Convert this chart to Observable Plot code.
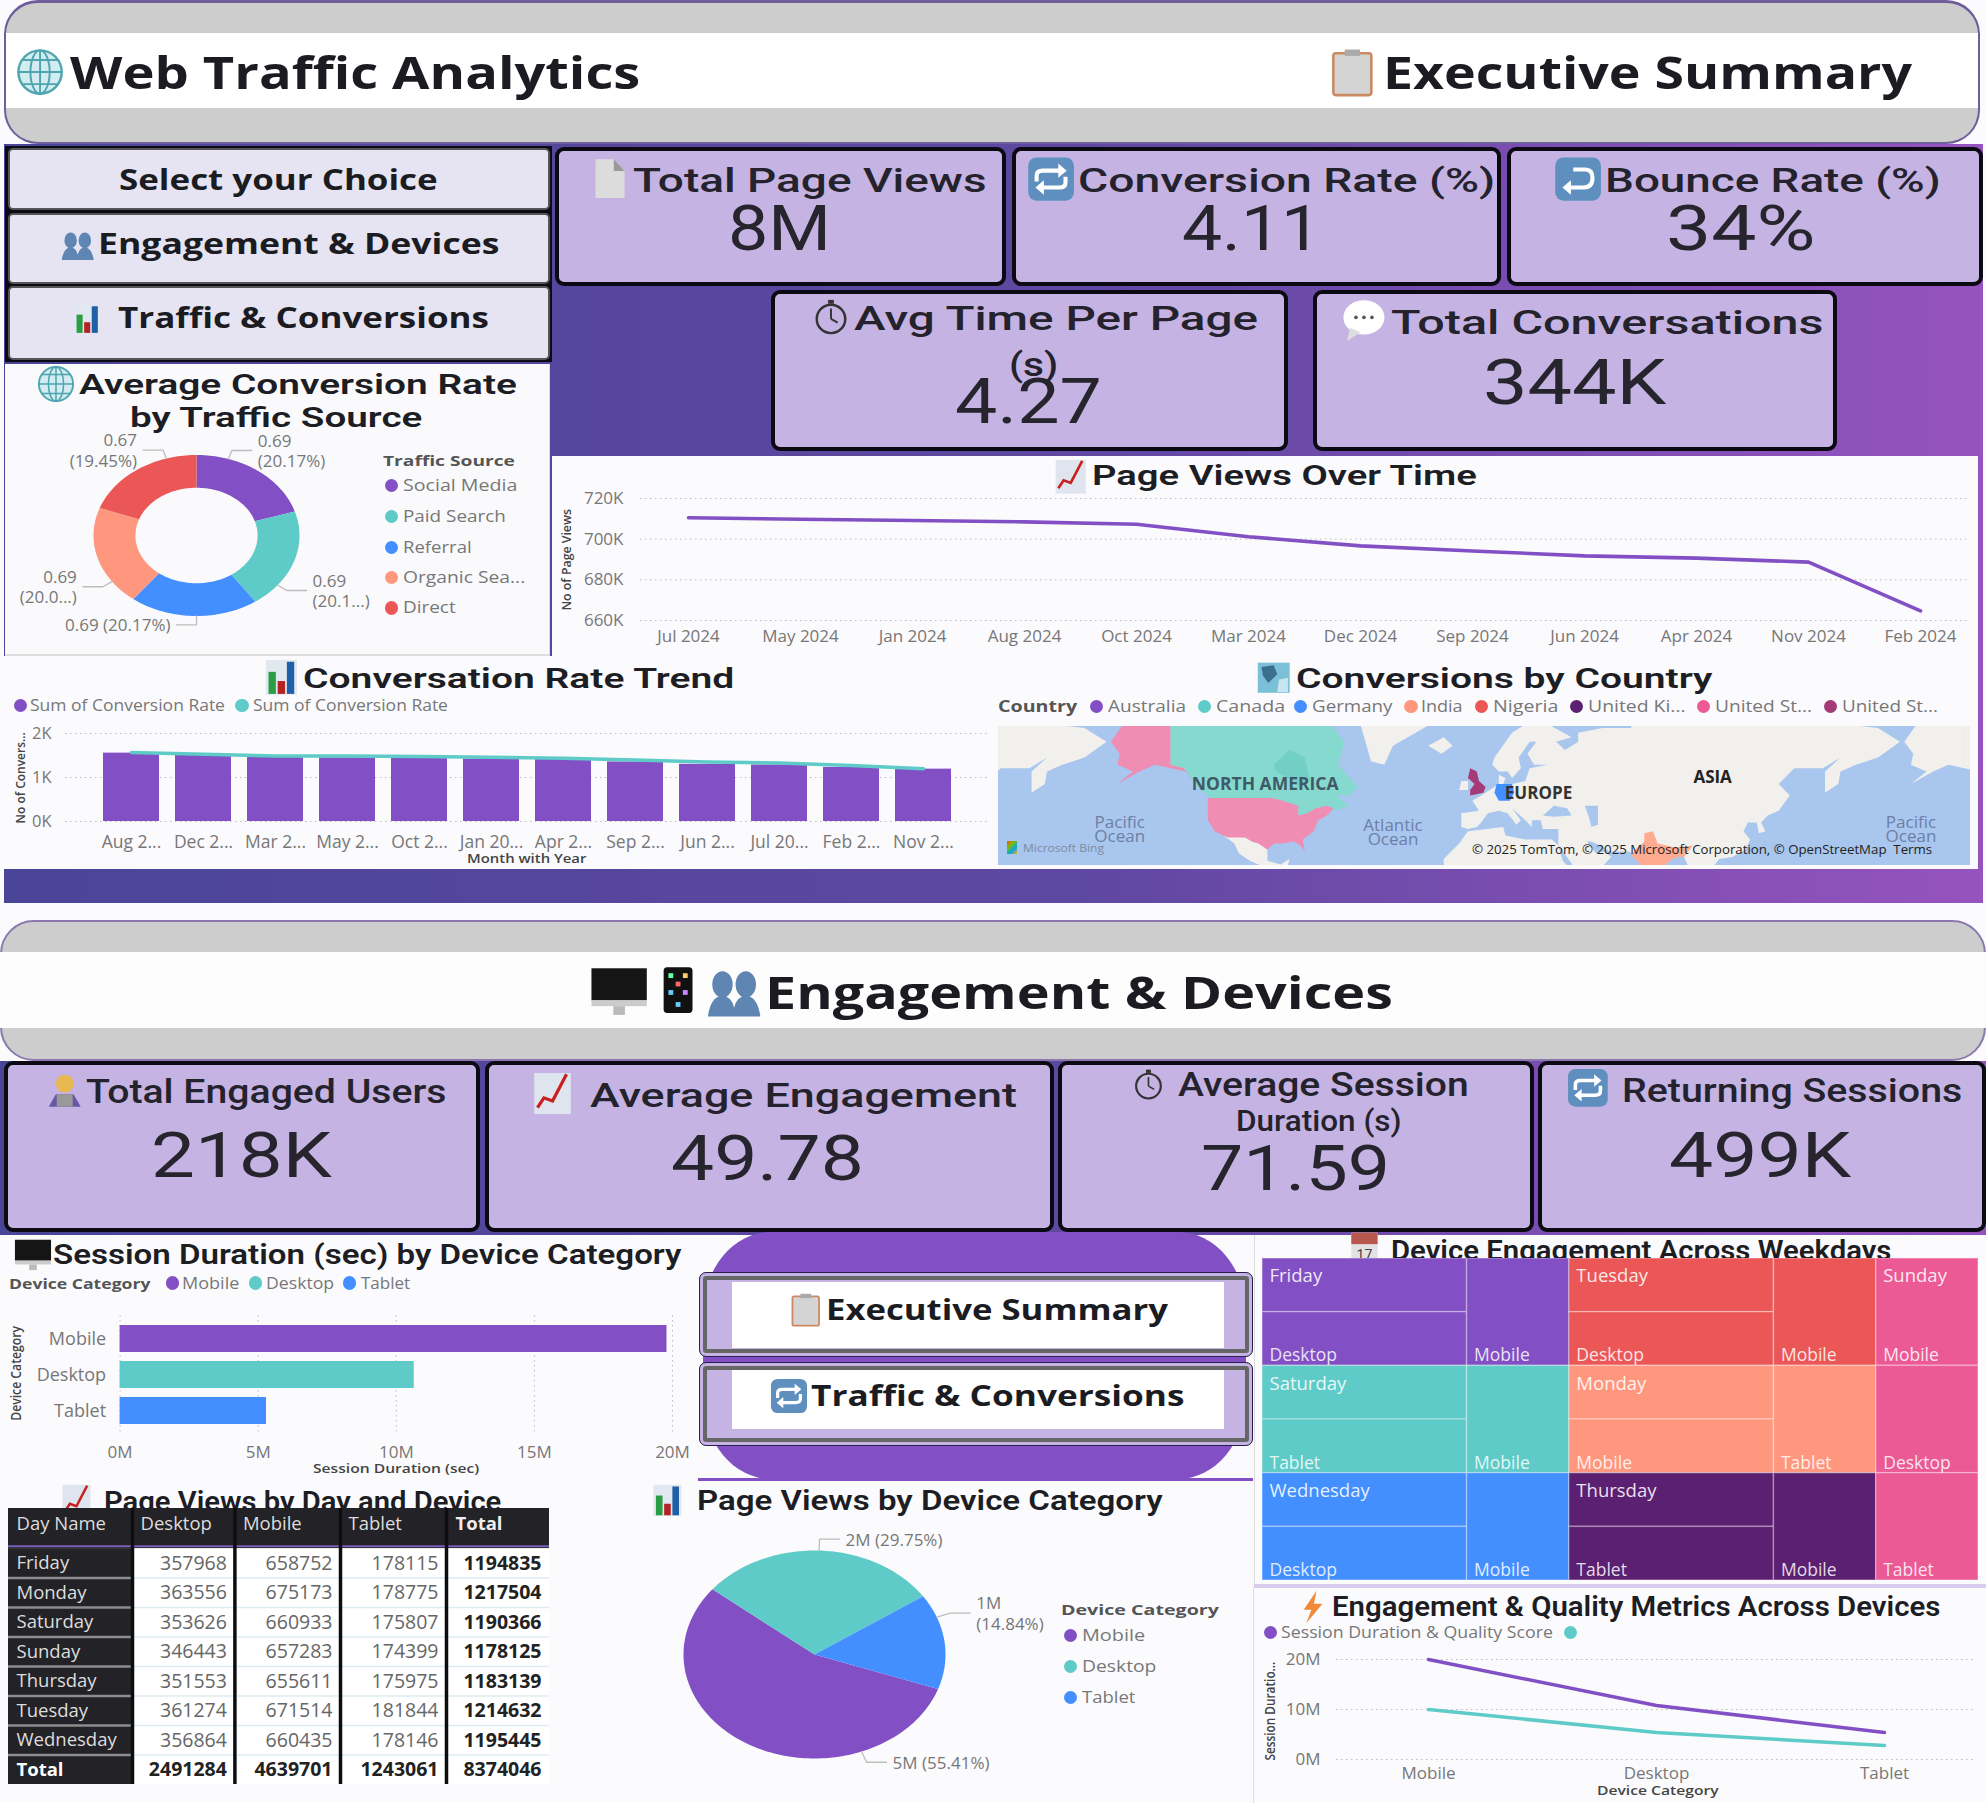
<!DOCTYPE html>
<html><head><meta charset="utf-8">
<script src="https://cdn.jsdelivr.net/npm/d3@7"></script>
<script src="https://cdn.jsdelivr.net/npm/@observablehq/plot@0.6"></script>
<style>
html,body{margin:0;padding:0;background:#fff}
#page{position:relative;width:1986px;height:1803px;overflow:hidden;background:#fbfbfd}
#page>*{position:absolute}
#page svg{display:block}
</style></head><body><div id="page"></div>
<script>
// ---------- Data ----------
const themePurple="#8250C4",themeTeal="#5ECBC8",themeBlue="#438FFF",themeOrange="#FF977E",themeRed="#EB5757",themeDeep="#5B2071",themePink="#EC5A96",themePlum="#A43B76";
const trafficSources=["Social Media","Paid Search","Referral","Organic Sea...","Direct"];
const trafficShares=[20.17,20.17,20.17,20.04,19.45];
const trafficLabels=["0.69\n(20.17%)","0.69\n(20.1...)","0.69 (20.17%)","0.69\n(20.0...)","0.67\n(19.45%)"];
const trafficColors=[themePurple,themeTeal,themeBlue,themeOrange,themeRed];
const viewMonths=["Jul 2024","May 2024","Jan 2024","Aug 2024","Oct 2024","Mar 2024","Dec 2024","Sep 2024","Jun 2024","Apr 2024","Nov 2024","Feb 2024"];
const viewValues=[710500,709800,709200,708500,707300,701200,696700,694200,691800,690700,688700,664700];
const trendMonths=["Aug 2...","Dec 2...","Mar 2...","May 2...","Oct 2...","Jan 20...","Apr 2...","Sep 2...","Jun 2...","Jul 20...","Feb 2...","Nov 2..."];
const trendBars=[1554,1510,1460,1446,1440,1420,1410,1354,1300,1285,1230,1190];
const trendLine=[1570,1530,1490,1490,1480,1460,1440,1400,1350,1330,1270,1200];
const deviceNames=["Mobile","Desktop","Tablet"];
const deviceColors=[themePurple,themeTeal,themeBlue];
const sessionDuration=[19800000,10650000,5300000];
const sessionLine=[20000000,10800000,5400000];
const qualityScore=[10000000,5400000,2800000];
const deviceViewShares=[55.41,29.75,14.84];
const deviceViewLabels=["5M (55.41%)","2M (29.75%)","1M\n(14.84%)"];
const tableColumns=["Day Name","Desktop","Mobile","Tablet","Total"];
const tableDays=["Friday","Monday","Saturday","Sunday","Thursday","Tuesday","Wednesday","Total"];
const tableDesktop=[357968,363556,353626,346443,351553,361274,356864,2491284];
const tableMobile=[658752,675173,660933,657283,655611,671514,660435,4639701];
const tableTablet=[178115,178775,175807,174399,175975,181844,178146,1243061];
const tableTotal=[1194835,1217504,1190366,1178125,1183139,1214632,1195445,8374046];
const treemapColumns=[["Friday","Saturday","Wednesday"],["Tuesday","Monday","Thursday"],["Sunday"]];
const treemapDevices={Friday:["","Desktop","Mobile"],Saturday:["","Tablet","Mobile"],Wednesday:["","Desktop","Mobile"],Tuesday:["","Desktop","Mobile"],Monday:["","Mobile","Tablet"],Thursday:["","Tablet","Mobile"],Sunday:["Mobile","Desktop","Tablet"]};
const treemapColors={Friday:themePurple,Saturday:themeTeal,Wednesday:themeBlue,Tuesday:themeRed,Monday:themeOrange,Thursday:themeDeep,Sunday:themePink};
const countries=["Australia","Canada","Germany","India","Nigeria","United Ki...","United St...","United St..."];
const countryColors=[themePurple,themeTeal,themeBlue,themeOrange,themeRed,themeDeep,themePink,themePlum];
// map outlines, lon/lat
const eurasiaOutline=[[-9,37],[-9,43],[-1,44],[-4,48],[2,51],[8,54],[8,57],[11,56],[10,54],[14,54],[20,55],[22,59],[30,60],[24,60],[21,63],[25,66],[22,66],[17,62],[18,59],[14,56],[12,58],[8,58],[5,60],[6,62],[14,68],[25,71],[41,67],[34,66],[38,64],[44,66],[44,68],[55,69],[68,69],[70,73],[80,73],[100,77],[113,74],[130,72],[140,73],[160,70],[180,69],[190,66],[180,62],[170,60],[163,58],[162,54],[156,51],[156,58],[163,62],[155,59],[142,59],[135,54],[140,50],[135,44],[130,42],[127,39],[129,35],[126,34],[125,39],[121,39],[119,35],[122,31],[120,26],[114,22],[108,21],[106,18],[109,13],[105,9],[100,13],[98,10],[98,16],[94,17],[92,22],[88,22],[80,15],[80,10],[77,8],[73,17],[72,21],[67,25],[58,25],[56,27],[50,30],[48,30],[52,24],[56,25],[59,22],[55,17],[44,13],[42,17],[35,28],[35,36],[28,36],[27,40],[23,40],[23,37],[20,40],[14,45],[18,40],[16,38],[12,43],[8,44],[3,43],[0,39],[-2,37],[-6,36]];
const africaOutline=[[-6,35],[10,37],[11,33],[20,31],[32,31],[35,28],[37,20],[43,12],[51,11],[45,2],[10,2],[-17,10],[-17,21],[-10,29]];
const greenlandOutline=[[-50,61],[-44,60],[-40,65],[-22,70],[-20,76],[-60,78],[-55,70],[-52,65]];
const icelandOutline=[[-24,65],[-18,63],[-13,65],[-17,67]];
const irelandOutline=[[-10,52],[-6,52],[-6,55],[-9,55]];
const northAmericaLand=[[-117,33],[-107,32],[-104,30],[-101,29],[-97,26],[-97,20],[-91,18],[-87,21],[-88,16],[-83,15],[-83,10],[-95,15],[-105,20],[-110,24],[-112,29]];
const blackSea=[[28,42],[33,46],[39,45],[41,42],[33,41.5]];
const caspianSea=[[47,46],[53,46],[53,38],[50,37],[49,41]];
const hudsonBay=[[-94,60],[-87,64],[-80,62],[-78,56],[-82,52],[-85,55],[-93,58]];
const alaskaOutline=[[-168,66],[-162,70],[-156,71],[-141,70],[-141,60],[-135,59],[-130,55],[-134,58],[-148,60],[-155,58],[-165,54],[-158,58],[-165,60],[-164,63]];
const canadaOutline=[[-141,70],[-120,70],[-95,73],[-75,73],[-62,66],[-65,60],[-56,53],[-60,50],[-66,50],[-60,46],[-66,44],[-70,46],[-75,45],[-79,43],[-83,42],[-83,46],[-90,48],[-95,49],[-123,49],[-130,54],[-135,59],[-141,60]];
const usaOutline=[[-124,49],[-95,49],[-90,48],[-83,46],[-83,42],[-79,43],[-75,45],[-70,46],[-67,45],[-70,42],[-74,40],[-76,35],[-81,31],[-80,25],[-82,28],[-85,30],[-90,29],[-94,29],[-97,26],[-101,29],[-104,30],[-107,32],[-115,32],[-117,33],[-121,35],[-124,40]];
const ukOutline=[[-5,50],[1,51],[2,53],[-1,55],[-2,58],[-5,59],[-6,56],[-3,54],[-5,52]];
const germanyOutline=[[6,51],[7,54],[14,54],[15,51],[13,48],[8,48]];
const indiaOutline=[[68,23],[70,21],[73,17],[77,8],[80,12],[80,15],[87,21],[89,22],[92,22],[96,28],[88,27],[80,29],[78,35],[74,34],[74,30],[70,26]];

// ---------- Layout helpers ----------
const page=document.getElementById("page");
const k=1986/1568;
const F1='"Open Sans",sans-serif',F2='Roboto,sans-serif';
function box(x1,y1,x2,y2,css=""){const d=document.createElement("div");
  d.style.cssText=`left:${x1*k}px;top:${y1*k}px;width:${(x2-x1)*k}px;height:${(y2-y1)*k}px;box-sizing:border-box;${css}`;page.append(d);return d;}
function t(str,x1,x2,cy,size,o={}){const s=document.createElement("span");s.textContent=str;
  s.style.cssText=`white-space:pre;left:${x1*k}px;top:0;line-height:1.2;font-family:${o.f||F1};font-weight:${o.w||400};font-size:${size}px;color:${o.c||"#1b1b22"};transform-origin:0 50%;`;
  page.append(s);const w=s.offsetWidth,h=s.offsetHeight;s.style.top=(cy*k-h/2)+"px";s.style.transform=`scaleX(${(x2-x1)*k/w})`;return s;}
function rt(str,cx,y1,y2,size,o={}){const s=document.createElement("span");s.textContent=str;
  s.style.cssText=`white-space:pre;left:0;top:0;line-height:1.2;font-family:${F1};font-weight:${o.w||600};font-size:${size}px;color:${o.c||"#444"};`;
  page.append(s);const w=s.offsetWidth,h=s.offsetHeight;s.style.left=(cx*k-w/2)+"px";s.style.top=((y1+y2)/2*k-h/2)+"px";
  s.style.transform=`rotate(-90deg) scaleX(${(y2-y1)*k/w})`;return s;}
function dot(x,y,c,r=5.2){const d=document.createElement("div");
  d.style.cssText=`left:${(x-r)*k}px;top:${(y-r)*k}px;width:${2*r*k}px;height:${2*r*k}px;border-radius:50%;background:${c}`;page.append(d);}
function place(plot,x,y){plot.style.left=x+"px";plot.style.top=y+"px";plot.style.position="absolute";page.append(plot);}
const baseStyle={fontFamily:'"Open Sans",sans-serif',background:"transparent",color:"#777"};
const grid={stroke:"#8a8a8a",strokeOpacity:.55,strokeDasharray:"1.5 3.5"};
const ICONS={
 globe:`<circle cx="20" cy="20" r="18" fill="#d2ecef" stroke="#4ea5b0" stroke-width="2"/><g fill="none" stroke="#4ea5b0" stroke-width="1.6"><ellipse cx="20" cy="20" rx="8" ry="18"/><path d="M20 2V38M2 20H38M5 10H35M5 30H35"/></g>`,
 clip:`<rect x="5" y="5" width="30" height="33" rx="2" fill="#d4d4d4" stroke="#c98a62" stroke-width="2"/><rect x="14" y="2" width="12" height="5" fill="#aaa"/>`,
 page:`<path d="M7 2H24L34 13V38H7Z" fill="#dcdcdc"/><path d="M24 2V13H34Z" fill="#999"/>`,
 swap:`<rect x="1" y="2" width="38" height="36" rx="7" fill="#5f8fbe"/><g fill="none" stroke="#fff" stroke-width="3.4"><path d="M8 22V17Q8 13 13 13H28M32 18V23Q32 27 27 27H12"/></g><path d="M26 7L33 13L26 19ZM14 21L7 27L14 33Z" fill="#fff"/>`,
 bounce:`<rect x="1" y="2" width="38" height="36" rx="7" fill="#5f8fbe"/><path d="M16 12H26Q32 12 32 19Q32 27 25 27H12" fill="none" stroke="#fff" stroke-width="3.4"/><path d="M14 21L7 27L14 33Z" fill="#fff"/>`,
 clock:`<circle cx="20" cy="22" r="15" fill="none" stroke="#333" stroke-width="2.6"/><path d="M20 22L20 11M20 22L27 26" stroke="#333" stroke-width="2"/><rect x="17" y="2" width="6" height="4" fill="#333"/>`,
 bubble:`<ellipse cx="21" cy="17" rx="18" ry="15" fill="#fff"/><path d="M9 26L6 38L18 30Z" fill="#ddd"/><g fill="#555"><circle cx="14" cy="17" r="1.6"/><circle cx="21" cy="17" r="1.6"/><circle cx="28" cy="17" r="1.6"/></g>`,
 chart:`<rect x="3" y="1" width="34" height="38" fill="#dfe5ee"/><path d="M6 33L12 24L20 27L33 2" fill="none" stroke="#c8201f" stroke-width="3"/>`,
 bars:`<rect x="3" y="1" width="34" height="38" fill="#e2e8ef"/><rect x="6" y="14" width="8" height="24" fill="#2a9d45"/><rect x="16" y="24" width="8" height="14" fill="#b52222"/><rect x="26" y="3" width="8" height="35" fill="#1f5fa8"/>`,
 people:`<g fill="#5f86b3"><ellipse cx="12" cy="14" rx="7" ry="9"/><ellipse cx="28" cy="14" rx="7" ry="9"/><path d="M2 36Q4 22 12 22Q18 22 20 30Q22 22 28 22Q36 22 38 36Z"/></g>`,
 monitor:`<rect x="1" y="5" width="38" height="22" fill="#151515"/><rect x="1" y="27" width="38" height="4" fill="#ccc"/><rect x="16" y="31" width="8" height="6" fill="#bbb"/>`,
 phone:`<rect x="8" y="1" width="24" height="38" rx="3" fill="#111"/><g fill="#6fa"><rect x="12" y="6" width="4" height="4"/><rect x="24" y="6" width="4" height="4" fill="#fc6"/><rect x="18" y="13" width="4" height="4" fill="#f66"/><rect x="12" y="20" width="4" height="4" fill="#6cf"/><rect x="24" y="20" width="4" height="4" fill="#c8f"/><rect x="18" y="30" width="4" height="4" fill="#6cf"/></g>`,
 cal:`<rect x="4" y="2" width="32" height="36" fill="#e2e2e2"/><rect x="4" y="2" width="32" height="14" fill="#b8584f"/><text x="20" y="35" text-anchor="middle" font-size="17" font-family="Roboto" fill="#444">17</text>`,
 bolt:`<path d="M24 1L9 23H18L12 39L31 16H21Z" fill="#f08a3a"/>`,
 map:`<rect x="2" y="3" width="36" height="34" fill="#7cc0d8"/><path d="M6 8L20 6L24 16L14 26L8 18Z" fill="#3a6f8f"/><path d="M26 22L36 20V36H24Z" fill="#c8e6ef"/>`,
 user:`<circle cx="20" cy="12" r="10" fill="#e8b850"/><path d="M2 38L10 24H30L38 38Z" fill="#6a56a8"/><rect x="11" y="24" width="18" height="14" fill="#999"/>`
};
function icon(name,cx,cy,size){const d=document.createElement("div");const s=size*k;
  d.style.cssText=`left:${cx*k-s/2}px;top:${cy*k-s/2}px;width:${s}px;height:${s}px`;
  d.innerHTML=`<svg viewBox="0 0 40 40" width="${s}" height="${s}">${ICONS[name]}</svg>`;page.append(d);}
function ringRows(names,shares,startDeg,inner){const sum=d3.sum(shares);let a=startDeg;const rows=[];
  shares.forEach((v,i)=>{const span=v/sum*360,n=Math.max(4,Math.ceil(span/1.5));
    const pt=(deg,r)=>({key:names[i],x:r*Math.sin(deg*Math.PI/180),y:r*Math.cos(deg*Math.PI/180)});
    for(let j=0;j<=n;j++)rows.push(pt(a+span*j/n,1));
    for(let j=n;j>=0;j--)rows.push(pt(a+span*j/n,inner));
    a+=span;});return rows;}
function leaders(angles,labels,sides,rx){const lines=[],texts=[];
  angles.forEach((deg,i)=>{const s=Math.sin(deg*Math.PI/180),c=Math.cos(deg*Math.PI/180);
    const ex=1.11*s,ey=1.11*c,end=ex+sides[i]*20/rx;
    lines.push({key:i,x:s,y:c},{key:i,x:ex,y:ey},{key:i,x:end,y:ey});
    texts.push({x:end,y:ey,label:labels[i],side:sides[i]});});return{lines,texts};}
function ringPlot(names,colors,shares,start,inner,angles,labels,sides,cx,cy,rx,ry,W,H){
  const L=leaders(angles,labels,sides,rx);
  return Plot.plot({width:W,height:H,margin:0,style:baseStyle,
    x:{axis:null,domain:[-cx/rx,(W-cx)/rx],range:[0,W]},y:{axis:null,domain:[-(H-cy)/ry,cy/ry],range:[H,0]},
    color:{domain:names,range:colors},
    marks:[Plot.line(ringRows(names,shares,start,inner),{x:"x",y:"y",z:"key",fill:"key",stroke:"none"}),
      Plot.line(L.lines,{x:"x",y:"y",z:"key",stroke:"#bdbdbd",strokeWidth:1.3}),
      Plot.text(L.texts.filter(d=>d.side>0),{x:"x",y:"y",text:"label",textAnchor:"start",dx:6,fontSize:17,fill:"#777",lineHeight:1.2}),
      Plot.text(L.texts.filter(d=>d.side<0),{x:"x",y:"y",text:"label",textAnchor:"end",dx:-6,fontSize:17,fill:"#777",lineHeight:1.2})]});}
function tickK(v){return Math.round(v/1000)+"K";}
function tickM(v){return Math.round(v/1e6)+"M";}

// ---------- Section 1: frame ----------
box(3,114,1566,713,"background:linear-gradient(90deg,#4a4597 0%,#5f48a1 55%,#9653c0 100%)");
box(3,0,1563,114,"background:#cdcdcd;border:2px solid #6f5e9c;border-top-width:3px;border-radius:34px");
box(4.5,26,1561.5,85,"background:#fff");
icon("globe",32,57,38);t("Web Traffic Analytics",55,505,57,45,{w:700});
icon("clip",1068,57,40);t("Executive Summary",1092,1510,57,45,{w:700});
box(4,115,436,286,"background:#0c0a14");
[[6,117,434,166],[6,168,434,224],[6,226,434,284]].forEach(b=>box(...b,"background:#e6e3f2;border:2.5px solid #555;border-radius:5px"));
t("Select your Choice",94,346,142,28,{w:700});
icon("people",61,194,28);t("Engagement & Devices",77,394,193,28,{w:700});
icon("bars",69,252,24);t("Traffic & Conversions",93,386,251,28,{w:700});
const card="background:#c5b3e3;border:4px solid #0b0a12;border-radius:9px";
[[438,116,794,226],[799,116,1185,226],[1190,116,1566,226],[609,229,1017,356],[1037,229,1450,356]].forEach(b=>box(...b,card));
const kt={f:F2,w:500,c:"#24222c"},kv={f:F2,w:400,c:"#26242c"};
icon("page",481,141,34);t("Total Page Views",500,779,143,33,kt);t("8M",575,656,181,63,kv);
icon("swap",830,141,38);t("Conversion Rate (%)",851,1181,143,33,kt);t("4.11",933,1043,181,63,kv);
icon("bounce",1246,141,38);t("Bounce Rate (%)",1267,1532,143,33,kt);t("34%",1315,1433,181,63,kv);
icon("clock",656,250,30);t("Avg Time Per Page",674,993,252,33,kt);t("(s)",797,836,288,33,kt);t("4.27",754,870,317,63,kv);
icon("bubble",1076,253,36);t("Total Conversations",1098,1439,255,33,kt);t("344K",1171,1316,302,63,kv);

// donut panel
box(4,287,434,518,"background:#fafafc;border-right:1px solid #ddd;border-bottom:2px solid #ddd");
icon("globe",44,303,30);
const pt={f:F2,w:600,c:"#1d1d24"};
t("Average Conversion Rate",62,408,304,28,pt);t("by Traffic Source",103,334,330,28,pt);
place(ringPlot(trafficSources,trafficColors,trafficShares,0,.593,[18,128,180,235,343],trafficLabels,[1,1,-1,-1,-1],196,120,103,80.5,500,240),0,415);
t("Traffic Source",302,406,363,15,{w:700,c:"#555"});
const lw=[408,399,372,415,360];
trafficSources.forEach((n,i)=>{const y=[383,408,432,456,480][i];dot(309,y,trafficColors[i]);t(n,318,lw[i],y,16,{c:"#777"});});

// page views panel
box(436,360,1562,518,"background:#fbfafd");
icon("chart",845,376,28);t("Page Views Over Time",862,1166,376,28,pt);
place(Plot.plot({width:1420,height:173,marginLeft:80,marginRight:12,marginTop:18,marginBottom:33,style:baseStyle,
  x:{type:"point",domain:viewMonths,padding:.385,label:null},y:{domain:[660000,720000],label:null},
  marks:[Plot.gridY([660000,680000,700000,720000],grid),
    Plot.axisY([660000,680000,700000,720000],{tickSize:0,tickPadding:17,tickFormat:tickK,fontSize:17,fill:"#777",label:null}),
    Plot.axisX({tickSize:0,tickPadding:9,fontSize:17,fill:"#777",label:null}),
    Plot.line(viewMonths.map((m,i)=>({m,v:viewValues[i]})),{x:"m",y:"v",stroke:themePurple,strokeWidth:3.6})]}),560,480);
rt("No of Page Views",447,402,482,13);

// bottom panels section 1
box(3,518,781,686,"background:#fbfafd");box(781,518,1562,686,"background:#fbfafd");
icon("bars",222,535,29);t("Conversation Rate Trend",239,579,536,28,pt);
dot(16,557,themePurple);t("Sum of Conversion Rate",24,178,557,15.5,{c:"#777"});
dot(191,557,themeTeal);t("Sum of Conversion Rate",200,354,557,15.5,{c:"#777"});
place(Plot.plot({width:1000,height:136,marginLeft:65,marginRight:10,marginTop:13,marginBottom:35,style:baseStyle,
  x:{type:"band",domain:trendMonths,paddingInner:.22,paddingOuter:.495,label:null},y:{domain:[0,2000],label:null},
  marks:[Plot.gridY([0,1000,2000],grid),
    Plot.axisY([0,1000,2000],{tickSize:0,tickPadding:14,tickFormat:tickK,fontSize:16.5,fill:"#777",label:null}),
    Plot.axisX({tickSize:0,tickPadding:14,fontSize:17.5,fill:"#777",label:null}),
    Plot.barY(trendMonths.map((m,i)=>({m,v:trendBars[i]})),{x:"m",y:"v",fill:themePurple}),
    Plot.line(trendMonths.map((m,i)=>({m,v:trendLine[i]})),{x:"m",y:"v",stroke:themeTeal,strokeWidth:3.5})]}),0,720);
rt("No of Convers...",16,578,650,13);
t("Month with Year",369,463,678,13,{w:600,c:"#444"});

icon("map",1006,535,28);t("Conversions by Country",1023,1352,536,28,pt);
t("Country",788,850,558,15.5,{w:700,c:"#555"});
const cd=[866,951,1027,1114,1170,1245,1345,1445],cx1=[875,960,1036,1122,1179,1254,1354,1454],cx2=[937,1015,1100,1155,1231,1331,1431,1530];
countries.forEach((n,i)=>{dot(cd[i],558,countryColors[i]);t(n,cx1[i],cx2[i],558,15.5,{c:"#777"});});
const merc=lat=>Math.log(Math.tan(Math.PI/4+lat*Math.PI/360));
const land="#f2f0ec",ocean="#a9c6ee",mapTeal="#86d9cf",mapPink="#f08db2",mapPeach="#ffab92";
const shape=(pts,fill,shift=0)=>Plot.line(pts.map(p=>({lon:p[0]+shift,lat:p[1]})),{x:"lon",y:d=>merc(d.lat),fill,stroke:"none"});
const ocText=(txt,lon,lat,size,fill,weight)=>Plot.text([{lon,lat}],{x:"lon",y:d=>merc(d.lat),text:()=>txt,fontSize:size,fill,fontWeight:weight,lineHeight:.85});
place(Plot.plot({width:972,height:139,margin:0,style:{...baseStyle,background:ocean},
  x:{axis:null,domain:[-219,222],range:[0,972]},y:{axis:null,domain:[.31,1.70],range:[139,0]},
  marks:[shape(eurasiaOutline,land),shape(eurasiaOutline,land,-360),shape(africaOutline,land),shape(greenlandOutline,land),shape(icelandOutline,land),shape(irelandOutline,land),
    shape(northAmericaLand,land),shape(blackSea,ocean),shape(caspianSea,ocean),
    shape(alaskaOutline,land,360),shape(canadaOutline,land,360),
    shape(canadaOutline,mapTeal),shape(hudsonBay,"#72cfc6"),shape(alaskaOutline,mapPink),shape(usaOutline,mapPink),
    shape(ukOutline,themePlum),shape(germanyOutline,themeBlue),shape(indiaOutline,mapPeach),
    ocText("NORTH AMERICA",-98,53.5,17.5,"#3f5a66",700),ocText("EUROPE",26,50.5,17,"#333",700),ocText("ASIA",105,56,17,"#222",700),
    ocText("Pacific\nOcean",-164,35.5,17,"#6d7fa6",400),ocText("Atlantic\nOcean",-40,34,17,"#6d7fa6",400),ocText("Pacific\nOcean",195,35.5,17,"#6d7fa6",400)]}),998,726);
box(795,664,803,674,"background:linear-gradient(135deg,#f25022,#7fba00,#00a4ef,#ffb900)");
t("Microsoft Bing",808,872,669,11,{c:"#7d8aa0"});
t("© 2025 TomTom, © 2025 Microsoft Corporation, © OpenStreetMap  Terms",1162,1525,671,12.5,{c:"#222"});

// ---------- Section 2 ----------
box(0,838,1568,975,"background:linear-gradient(90deg,#4a4597 0%,#5f48a1 55%,#9653c0 100%)");
box(0,726,1568,838,"background:#cdcdcd;border:2px solid #8a78ae;border-radius:34px");
box(0,752,1568,812,"background:#fdfdfd");
icon("monitor",489,782,46);icon("phone",535,782,38);icon("people",580,784,46);
t("Engagement & Devices",604,1100,783,45,{w:700});
[[3,838,379,973],[383,838,832,973],[835,838,1211,973],[1214,838,1568,973]].forEach(b=>box(...b,card));
icon("user",51,861,28);t("Total Engaged Users",68,353,862,33,kt);t("218K",119,262,913,63,kv);
icon("chart",436,863,34);t("Average Engagement",466,803,865,33,kt);t("49.78",530,682,915,63,kv);
icon("clock",907,856,26);t("Average Session",930,1160,857,33,kt);t("Duration (s)",976,1107,885,30,kt);t("71.59",948,1097,923,63,kv);
icon("swap",1254,859,33);t("Returning Sessions",1281,1550,861,33,kt);t("499K",1318,1462,913,63,kv);

// session duration
icon("monitor",26,990,30);t("Session Duration (sec) by Device Category",42,538,991,27,pt);
t("Device Category",7,119,1013,15,{w:700,c:"#555"});
[[136,144,189],[202,210,264],[276,285,324]].forEach((p,i)=>{dot(p[0],1013,deviceColors[i]);t(deviceNames[i],p[1],p[2],1013,15.5,{c:"#777"});});
place(Plot.plot({width:700,height:170,marginLeft:119.6,marginRight:28,marginTop:15,marginBottom:37,style:baseStyle,
  x:{domain:[0,20000000],label:null},y:{type:"band",domain:deviceNames,paddingInner:.25,paddingOuter:.26,label:null},
  marks:[Plot.gridX([0,5e6,10e6,15e6,20e6],grid),
    Plot.axisX([0,5e6,10e6,15e6,20e6],{tickSize:0,tickPadding:12,tickFormat:tickM,fontSize:17,fill:"#777",label:null}),
    Plot.axisY({tickSize:0,tickPadding:14,fontSize:18,fill:"#777",label:null}),
    Plot.barX(deviceNames.map((n,i)=>({n,v:sessionDuration[i]})),{x:"v",y:"n",fill:"n"})],
  color:{domain:deviceNames,range:deviceColors}}),0,1300);
rt("Device Category",13,1047,1122,14);
t("Session Duration (sec)",247,378,1160,13,{w:600,c:"#444"});

// page views by day title (clipped by the table)
icon("chart",60,1185,26);t("Page Views by Day and Device",82,396,1186,27,pt);
const colW=[124,102.4,105.6,106,103],edge=[0];colW.forEach(w=>edge.push(edge[edge.length-1]+w));
const valueCols=[tableDesktop,tableMobile,tableTablet,tableTotal];
const valueRows=[];valueCols.forEach((col,c)=>col.forEach((v,r)=>valueRows.push({x:edge[c+2],y:r+.5,v,bold:c===3||r===7})));
const dayRows=tableDays.map((d,r)=>({x:0,d,y:r+.5,bold:r===7}));
const headRows=tableColumns.map((h,c)=>({x:edge[c],h,y:-.82,bold:c===4}));
place(Plot.plot({width:541,height:276,margin:0,style:{...baseStyle,background:"#fff"},
  x:{axis:null,domain:[0,541],range:[0,541]},y:{axis:null,domain:[-1.36,8],range:[0,276]},
  marks:[Plot.rect([{x1:0,x2:541,y1:-1.36,y2:0}],{x1:"x1",x2:"x2",y1:"y1",y2:"y2",fill:"#232226"}),
    Plot.rect([{x1:0,x2:edge[1],y1:0,y2:8}],{x1:"x1",x2:"x2",y1:"y1",y2:"y2",fill:"#232226"}),
    Plot.ruleY(d3.range(1,8),{y:d=>d,x1:edge[1],x2:541,stroke:"#dcecf0",strokeWidth:1.5}),
    Plot.ruleY(d3.range(1,8),{y:d=>d,x1:0,x2:edge[1],stroke:"#8d8d8d",strokeWidth:2.5}),
    Plot.ruleY([-.08],{x1:0,x2:541,stroke:"#7a5fb8",strokeWidth:2}),
    Plot.ruleX(edge.slice(1,5),{x:d=>d,y1:-1.36,y2:8,stroke:"#0d0d10",strokeWidth:3.5}),
    Plot.text(headRows.filter(d=>!d.bold),{x:"x",y:"y",text:"h",textAnchor:"start",dx:8,fontSize:18.5,fill:"#ddd"}),
    Plot.text(headRows.filter(d=>d.bold),{x:"x",y:"y",text:"h",textAnchor:"start",dx:9,fontSize:18.5,fill:"#eee",fontWeight:700}),
    Plot.text(dayRows.filter(d=>!d.bold),{x:"x",y:"y",text:"d",textAnchor:"start",dx:8,fontSize:18.5,fill:"#ddd"}),
    Plot.text(dayRows.filter(d=>d.bold),{x:"x",y:"y",text:"d",textAnchor:"start",dx:8,fontSize:18.5,fill:"#fff",fontWeight:700}),
    Plot.text(valueRows.filter(d=>!d.bold),{x:"x",y:"y",text:d=>String(d.v),textAnchor:"end",dx:-8,fontSize:19.5,fill:"#666"}),
    Plot.text(valueRows.filter(d=>d.bold),{x:"x",y:"y",text:d=>String(d.v),textAnchor:"end",dx:-8,fontSize:19.5,fill:"#222",fontWeight:700})]}),8,1508);

// centre navigation
box(555,973,984,1168,"background:#8250c4;border-radius:68px / 82px");
[[552,1004,989,1071],[552,1075,989,1142]].forEach(b=>box(...b,"background:#c5b3e3;border:1.5px solid #2a1f50;border-radius:7px;box-shadow:inset 0 0 0 3px #c5b3e3,inset 0 0 0 7px #666"));
box(578,1012,966,1064,"background:#fff");box(578,1082,966,1128,"background:#fff");
icon("clip",636,1034,28);t("Executive Summary",652,922,1034,28,{w:700});
icon("swap",623,1102,30);t("Traffic & Conversions",640,935,1102,28,{w:700});
box(551,1167,989,1169.5,"background:#8250c4");

// pie
icon("bars",527,1185,26);t("Page Views by Device Category",550,918,1185,27,pt);
place(ringPlot(deviceNames,deviceColors,deviceViewShares,109.4,0,[159,2,69],deviceViewLabels,[1,1,1],154,150,131,104,470,300),660,1504);
t("Device Category",838,963,1270,15,{w:700,c:"#555"});
[[1291,904],[1316,913],[1340,896]].forEach((p,i)=>{dot(845,p[0],deviceColors[i]);t(deviceNames[i],854,p[1],p[0],16,{c:"#777"});});

// treemap
box(990,975,1568,1253,"background:#fbfbfd;border-left:1px solid #ddd");
icon("cal",1077,985,26);t("Device Engagement Across Weekdays",1098,1493,988,27,pt);
const treeData={children:treemapColumns.map(days=>({children:days.map(day=>{const ds=treemapDevices[day];
  const leaf=(device,i)=>({day,device,first:i===0});
  return day==="Sunday"?{day,stack:true,children:ds.map(leaf)}:{day,children:[{children:ds.slice(0,2).map(leaf)},leaf(ds[2],2)]};})}))};
function tile(node,x0,y0,x1,y1){
  const vertical=node.depth===1||node.depth===3||(node.depth===2&&node.data.stack);
  (vertical?d3.treemapSlice:d3.treemapDice)(node,x0,y0,x1,y1);}
const treeRoot=d3.treemap().size([1,1]).tile(tile).round(false)(d3.hierarchy(treeData).sum(d=>d.children?0:1));
const treeCells=treeRoot.leaves().map(n=>({...n.data,x0:n.x0,x1:n.x1,y0:n.y0,y1:n.y1}));
const TW=716,TH=322;
place(Plot.plot({width:TW,height:TH,margin:0,style:baseStyle,
  x:{axis:null,domain:[0,1],range:[0,TW]},y:{axis:null,domain:[0,1],range:[0,TH]},
  color:{domain:Object.keys(treemapColors),range:Object.values(treemapColors)},
  marks:[Plot.rect(treeCells,{x1:"x0",x2:"x1",y1:"y0",y2:"y1",fill:"day",stroke:"#fff",strokeOpacity:.3,strokeWidth:1.5}),
    Plot.text(treeCells.filter(d=>d.first),{x:"x0",y:"y0",text:"day",textAnchor:"start",dx:7,dy:18,fontSize:18.5,fill:"#fff",fillOpacity:.88}),
    Plot.text(treeCells,{x:"x0",y:"y1",text:"device",textAnchor:"start",dx:7,dy:-10,fontSize:17.5,fill:"#fff",fillOpacity:.85})]}),1262,1258);

// engagement lines
box(990,1250.5,1568,1253.5,"background:#d9cdef");
box(989,1253,990,1424,"background:#ddd");
icon("bolt",1037,1269,27);t("Engagement & Quality Metrics Across Devices",1052,1532,1269,27,pt);
dot(1003,1289,themePurple);t("Session Duration & Quality Score",1011,1226,1289,15.5,{c:"#777"});dot(1240,1289,themeTeal);
place(Plot.plot({width:736,height:163,marginLeft:86,marginRight:11,marginTop:19,marginBottom:44,style:baseStyle,
  x:{type:"point",domain:deviceNames,padding:.4,label:null},y:{domain:[0,20000000],label:null},
  marks:[Plot.gridY([0,10e6,20e6],grid),
    Plot.axisY([0,10e6,20e6],{tickSize:0,tickPadding:16,tickFormat:tickM,fontSize:17,fill:"#777",label:null}),
    Plot.axisX({tickSize:0,tickPadding:7,fontSize:17,fill:"#777",label:null}),
    Plot.line(deviceNames.map((n,i)=>({n,v:sessionLine[i]})),{x:"n",y:"v",stroke:themePurple,strokeWidth:3.5}),
    Plot.line(deviceNames.map((n,i)=>({n,v:qualityScore[i]})),{x:"n",y:"v",stroke:themeTeal,strokeWidth:3.5})]}),1250,1640);
rt("Session Duratio...",1003,1312,1390,13.5);
t("Device Category",1261,1357,1414,13,{w:600,c:"#444"});
</script></body></html>
